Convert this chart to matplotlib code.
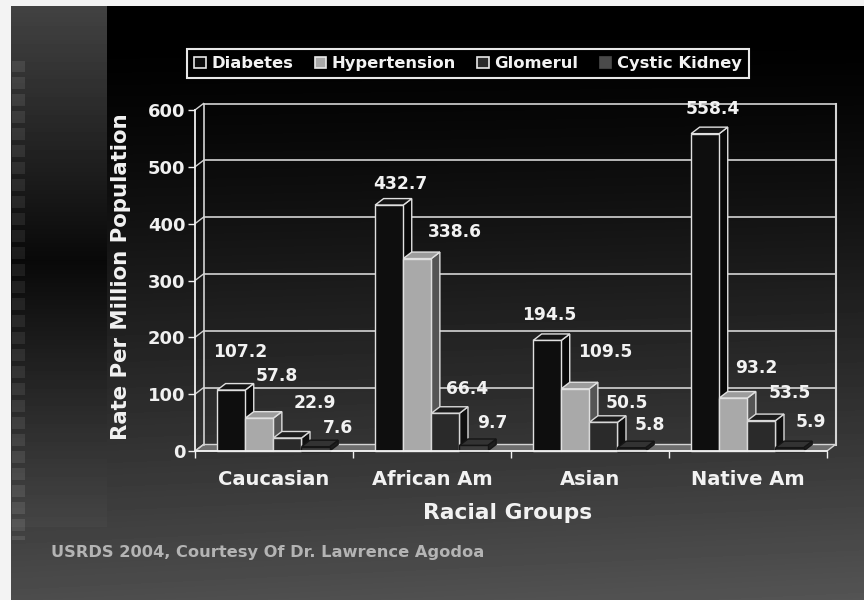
import numpy as np
import matplotlib.pyplot as plt
from matplotlib.patches import Polygon, Rectangle, Patch

groups = ['Caucasian', 'African Am', 'Asian', 'Native Am']
series = ['Diabetes', 'Hypertension', 'Glomerul', 'Cystic Kidney']
diabetes = [107.2, 432.7, 194.5, 558.4]
hypertension = [57.8, 338.6, 109.5, 93.2]
glomerul = [22.9, 66.4, 50.5, 53.5]
cystic = [7.6, 9.7, 5.8, 5.9]
yticks = [0, 100, 200, 300, 400, 500, 600]

values = [diabetes, hypertension, glomerul, cystic]

# front, top, side colours and edge colour for each series
styles = [
    ('#0e0e0e', '#141414', '#080808', '#e0e0e0'),
    ('#a9a9a9', '#9c9c9c', '#555555', '#e0e0e0'),
    ('#2a2a2a', '#1c1c1c', '#101010', '#d8d8d8'),
    ('#3c3c3c', '#333333', '#1e1e1e', '#151515'),
]

# hand placed value labels (pixel offset from the bar top, per group / series)
lab_dx = [[9, 17, 27, 22], [11, 38, 22, 19], [2, 30, 23, 18], [8, 23, 28, 21]]
lab_dy = [[38, 42, 35, 19], [21, 27, 24, 22], [25, 37, 19, 23], [25, 30, 28, 26]]

W, H = 864, 600
fig = plt.figure(figsize=(W / 100, H / 100), dpi=100)

# background: dark slide gradient with the grey strip on the left
yy, xx = np.mgrid[0:H, 0:W]
img = 0.30 * np.clip((yy - 40) / 560.0, 0, 1) ** 1.3 + 0.03 * (xx / W) * (yy / H)
panel = (xx >= 11) & (xx < 107) & (yy < 527)
img[panel] = (0.035 + 0.23 * np.abs(yy - 260) / 260.0)[panel]
sq = (xx >= 12) & (xx < 25) & (yy > 60) & (yy < 540) & (((yy - 60) % 17) < 12)
img[sq] = img[sq] + 0.07
img[:6, :] = 0.95
img[:, :11] = 0.95
bg = fig.add_axes([0, 0, 1, 1], zorder=0)
bg.imshow(img, cmap='gray', vmin=0, vmax=1, aspect='auto', interpolation='bilinear')
bg.axis('off')

x0_px, x1_px, y0_px, y1_px = 195, 827, 451, 110
ax = fig.add_axes([x0_px / W, 1 - y0_px / H, (x1_px - x0_px) / W, (y0_px - y1_px) / H], zorder=1)
ax.patch.set_alpha(0)
ax.set_xlim(0, 4)
ax.set_ylim(0, 600)

# depth of the 3d box in data units
dx = 8.5 / ((x1_px - x0_px) / 4)
dy = 6.5 / ((y0_px - y1_px) / 600)
line_c = '#d4d4d4'

# floor
ax.add_patch(Polygon([(0, 0), (4, 0), (4 + dx, dy), (dx, dy)], closed=True,
                     facecolor='#6e6e6e', edgecolor=line_c, lw=1, zorder=1, clip_on=False))
# back wall and gridlines
for t in yticks[1:]:
    ax.plot([dx, 4 + dx], [t + dy, t + dy], color=line_c, lw=1.2, zorder=1, clip_on=False)
ax.plot([dx, dx], [dy, 600 + dy], color=line_c, lw=1.2, zorder=1, clip_on=False)
ax.plot([4 + dx, 4 + dx], [dy, 600 + dy], color=line_c, lw=1.5, zorder=1, clip_on=False)
for t in yticks:
    ax.plot([0, dx], [t, t + dy], color=line_c, lw=1, zorder=1, clip_on=False)

# 3d bars
bw = 0.178
start = 0.14
z = 2
for i in range(len(groups)):
    for j, vals in enumerate(values):
        v = vals[i]
        front, top, side, ec = styles[j]
        x = i + start + j * bw
        ax.add_patch(Polygon([(x + bw, 0), (x + bw + dx, dy), (x + bw + dx, v + dy), (x + bw, v)],
                             closed=True, facecolor=side, edgecolor=ec, lw=1, zorder=z, clip_on=False))
        ax.add_patch(Polygon([(x, v), (x + bw, v), (x + bw + dx, v + dy), (x + dx, v + dy)],
                             closed=True, facecolor=top, edgecolor=ec, lw=1, zorder=z, clip_on=False))
        ax.add_patch(Rectangle((x, 0), bw, v, facecolor=front, edgecolor=ec, lw=1,
                               zorder=z + 0.5, clip_on=False))
        z += 1
        ax.annotate(f'{v:.1f}', (x + bw / 2, v), xytext=(lab_dx[i][j], lab_dy[i][j]),
                    textcoords='offset pixels', ha='center', va='center',
                    color='#f2f2f2', fontsize=12.3, fontweight='bold', zorder=100,
                    annotation_clip=False)

for s in ['top', 'right']:
    ax.spines[s].set_visible(False)
for s in ['left', 'bottom']:
    ax.spines[s].set_color('#f0f0f0')
    ax.spines[s].set_linewidth(1.3)
    ax.spines[s].set_zorder(50)

ax.set_yticks(yticks)
ax.set_yticklabels([str(t) for t in yticks])
ax.tick_params(axis='y', colors='#f0f0f0', length=5, width=1, pad=2, labelsize=13)
ax.set_xticks(range(5))
ax.set_xticklabels([])
ax.set_xticks([i + 0.5 for i in range(4)], minor=True)
ax.set_xticklabels(groups, minor=True)
ax.tick_params(axis='x', which='major', colors='#f0f0f0', length=5, width=1)
ax.tick_params(axis='x', which='minor', length=0, pad=14, labelsize=14, colors='#f2f2f2')
for lab in ax.get_yticklabels() + ax.get_xticklabels(minor=True):
    lab.set_fontweight('bold')

fig.text(508 / W, 1 - 513 / H, 'Racial Groups', ha='center', va='center',
         color='#f2f2f2', fontsize=15.7, fontweight='bold')
fig.text(121 / W, 1 - 277 / H, 'Rate Per Million Population', ha='center', va='center',
         rotation=90, color='#f2f2f2', fontsize=15.3, fontweight='bold')
fig.text(51 / W, 1 - 553 / H, 'USRDS 2004, Courtesy Of Dr. Lawrence Agodoa', ha='left',
         va='center', color='#b4b4b4', fontsize=11.7, fontweight='bold')

handles = [Patch(facecolor='#0e0e0e', edgecolor='#e8e8e8', lw=1.2),
           Patch(facecolor='#a9a9a9', edgecolor='#e8e8e8', lw=1.2),
           Patch(facecolor='#2a2a2a', edgecolor='#e8e8e8', lw=1.2),
           Patch(facecolor='#4a4a4a', edgecolor='#4a4a4a', lw=1.2)]
leg = fig.legend(handles, series, loc='center', bbox_to_anchor=(468 / W, 1 - 63.5 / H),
                 ncol=4, frameon=True, fancybox=False, facecolor='black', edgecolor='#e8e8e8',
                 framealpha=1, handlelength=0.7, handleheight=0.7, handletextpad=0.35,
                 columnspacing=1.3, borderpad=0.45, borderaxespad=0,
                 prop={'size': 11.8, 'weight': 'bold'})
leg.get_frame().set_linewidth(1.5)
for t in leg.get_texts():
    t.set_color('#f2f2f2')

fig.savefig('out.png', dpi=100)
